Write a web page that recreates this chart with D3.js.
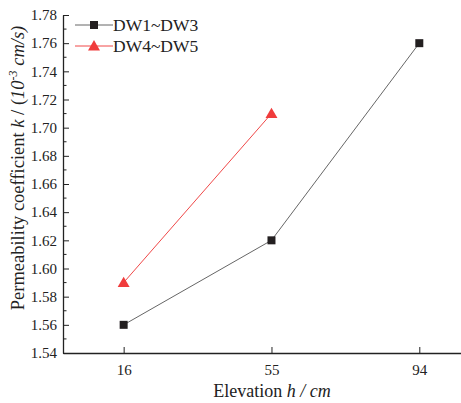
<!DOCTYPE html>
<html>
<head>
<meta charset="utf-8">
<script src="https://cdn.jsdelivr.net/npm/d3@7"></script>
<style>
  body { margin: 0; background: #fff; }
</style>
</head>
<body>
<script>
var elevation = [16, 55, 94];
var dw13 = [1.56, 1.62, 1.76];
var dw45 = [1.59, 1.71];
var yTicks = [1.54, 1.56, 1.58, 1.60, 1.62, 1.64, 1.66, 1.68, 1.70, 1.72, 1.74, 1.76, 1.78];
var seriesNames = ["DW1~DW3", "DW4~DW5"];

var serif = "'Liberation Serif', 'Times New Roman', serif";
var width = 461, height = 403;
var margin = { top: 15, right: 0, bottom: 50, left: 63 };

var svg = d3.select("body").append("svg")
    .attr("width", width)
    .attr("height", height)
    .style("font-family", serif);

var x = d3.scaleLinear().domain([0, 105]).range([margin.left, width - margin.right]);
var y = d3.scaleLinear().domain([1.54, 1.78]).range([height - margin.bottom, margin.top]);

// y axis, ticks pointing into the plot
var yAxis = d3.axisLeft(y).tickValues(yTicks).tickFormat(d3.format(".2f")).tickSizeInner(-6).tickSizeOuter(0).tickPadding(6);
var gy = svg.append("g").attr("transform", "translate(" + margin.left + ",0)").call(yAxis);
// minor ticks
var minor = d3.range(0, 12).map(function(i) { return 1.55 + i * 0.02; });
gy.selectAll(".minor").data(minor).enter().append("line")
    .attr("x1", 0).attr("x2", 3.5)
    .attr("y1", function(d) { return y(d); }).attr("y2", function(d) { return y(d); })
    .attr("stroke", "#222");

var xAxis = d3.axisBottom(x).tickValues(elevation).tickSizeInner(-6).tickSizeOuter(0).tickPadding(7);
var gx = svg.append("g").attr("transform", "translate(0," + (height - margin.bottom) + ")").call(xAxis);

[gx, gy].forEach(function(g) {
    g.attr("font-family", serif);
    g.select(".domain").attr("stroke", "#222").attr("stroke-width", 1.3);
    g.selectAll(".tick line").attr("stroke", "#222");
    g.selectAll("text").style("font-family", serif).style("font-size", "15px").attr("fill", "#222");
});
gx.selectAll("text").attr("dy", "1em");

// lines
var line = d3.line().x(function(d, i) { return x(elevation[i]); }).y(function(d) { return y(d); });

svg.append("path").datum(dw13).attr("d", line)
    .attr("fill", "none").attr("stroke", "#666").attr("stroke-width", 1);
svg.append("path").datum(dw45).attr("d", line)
    .attr("fill", "none").attr("stroke", "#f04848").attr("stroke-width", 1);

var sq = d3.symbol().type(d3.symbolSquare).size(64);
var tri = d3.symbol().type(d3.symbolTriangle).size(62);

svg.selectAll(".m1").data(dw13).enter().append("path")
    .attr("d", sq)
    .attr("transform", function(d, i) { return "translate(" + x(elevation[i]) + "," + y(d) + ")"; })
    .attr("fill", "#231f20");
svg.selectAll(".m2").data(dw45).enter().append("path")
    .attr("d", tri)
    .attr("transform", function(d, i) { return "translate(" + x(elevation[i]) + "," + (y(d) + 1) + ")"; })
    .attr("fill", "#f03c3c");

// legend
var leg = svg.append("g");
var legY = [25, 46];
var legColors = ["#666", "#f04848"];
seriesNames.forEach(function(name, i) {
    leg.append("line").attr("x1", 75).attr("x2", 113).attr("y1", legY[i]).attr("y2", legY[i])
        .attr("stroke", legColors[i]).attr("stroke-width", 1);
    leg.append("path").attr("d", i === 0 ? sq : tri)
        .attr("transform", "translate(94," + (legY[i] + (i === 0 ? 0 : 1)) + ")")
        .attr("fill", i === 0 ? "#231f20" : "#f03c3c");
    leg.append("text").attr("x", 113).attr("y", legY[i] + 6)
        .style("font-size", "17.5px").attr("fill", "#222").text(name);
});

// x label
var xl = svg.append("text").attr("x", 272).attr("y", 397).attr("text-anchor", "middle")
    .style("font-size", "18px").attr("fill", "#222");
xl.append("tspan").text("Elevation ");
xl.append("tspan").style("font-style", "italic").text("h / cm");

// y label
var yl = svg.append("text").attr("transform", "translate(24,168) rotate(-90)").attr("text-anchor", "middle")
    .style("font-size", "18.5px").attr("fill", "#222");
yl.append("tspan").text("Permeability coefficient ");
yl.append("tspan").style("font-style", "italic").text("k");
yl.append("tspan").text(" / (");
yl.append("tspan").style("font-style", "italic").text("10");
yl.append("tspan").attr("dy", -7).style("font-size", "12px").style("font-style", "italic").text("-3");
yl.append("tspan").attr("dy", 7).style("font-style", "italic").text(" cm/s)");
</script>
</body>
</html>
